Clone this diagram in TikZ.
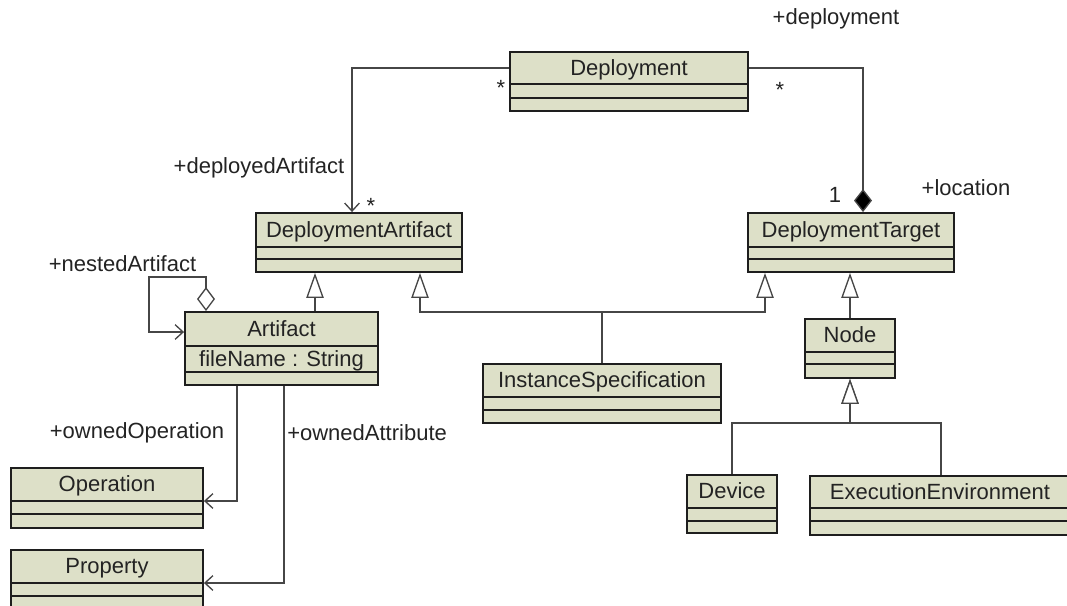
\documentclass[tikz,border=0pt]{standalone}
\usepackage{fontspec}
\setmainfont{Liberation Sans}
\usetikzlibrary{arrows.meta,fit,calc}
\definecolor{clsfill}{RGB}{221,224,200}
\definecolor{clsline}{RGB}{30,30,30}
\definecolor{conn}{RGB}{70,70,70}
\definecolor{txt}{RGB}{35,35,35}
\tikzset{
  cls/.style={draw=clsline, fill=clsfill, line width=1.4pt, inner sep=0pt},
  comp/.style={draw=clsline, line width=1.4pt},
  lbl/.style={font=\fontsize{16.5}{19}\selectfont, text=txt, inner sep=0pt},
  ttl/.style={lbl, text height=11.5pt, text depth=3.4pt, yshift=-1.5pt},
  assoc/.style={draw=conn, line width=1pt},
  nav/.style={assoc, -{Straight Barb[length=6pt,width=11pt]}},
  gen/.style={assoc, -{Triangle[open,length=18.75pt,width=13pt,fill=white]}},
}
\newcommand\umlclass[7]{%
  \coordinate (#1-nw) at (#2,#3);
  \coordinate (#1-se) at (#4,#5);
  \node[cls, fit=(#1-nw)(#1-se)] (#1) {};
  \draw[comp] (#2,#6) -- (#4,#6);
  \draw[comp] (#2,#7) -- (#4,#7);
}
\begin{document}
\begin{tikzpicture}[x=0.75pt,y=-0.75pt]
\useasboundingbox (0,0) rectangle (1067,606);
\clip (0,0) rectangle (1067,606);
% classes
\umlclass{dep}{510}{52}{748}{111}{84}{98}
\umlclass{da}{256}{213}{462}{272}{247}{259}
\umlclass{dt}{748}{213}{954}{272}{247}{259}
\umlclass{art}{185}{312}{378}{385}{346}{372}
\umlclass{is}{483}{364}{721}{423}{397}{410}
\umlclass{nd}{805}{319}{895}{378}{352}{364}
\umlclass{dev}{687}{475}{777}{533}{508}{521}
\umlclass{ee}{810}{476}{1072}{535}{508}{521}
\umlclass{op}{11}{468}{203}{528}{501}{514}
\umlclass{prop}{11}{550}{203}{615}{583}{596}
% titles
\node[ttl] (dep-t) at (629,68) {Deployment};
\node[ttl] (da-t) at (359,230) {DeploymentArtifact};
\node[ttl] (dt-t) at (851,230) {DeploymentTarget};
\node[ttl] (art-t) at (281.5,329) {Artifact};
\node[ttl] (art-a) at (281.5,359) {fileName : String};
\node[ttl] (is-t) at (602,380.5) {InstanceSpecification};
\node[ttl] (nd-t) at (850,335.5) {Node};
\node[ttl] (dev-t) at (732,491.5) {Device};
\node[ttl] (ee-t) at (940,492) {ExecutionEnvironment};
\node[ttl] (op-t) at (107,484.5) {Operation};
\node[ttl] (prop-t) at (107,566.5) {Property};
% associations
\draw[nav] (dep.west |- 0,68) -| (da.north -| 352,0);
\draw[assoc, {Diamond[length=17.25pt,width=13.5pt,fill=black]}-] (dt.north -| 863,0) |- (dep.east |- 0,68);
\draw[assoc, {Diamond[open,length=18pt,width=13.5pt,fill=white]}-{Straight Barb[length=6pt,width=11pt]}] (art.north -| 206,0) |- (149,277) |- (art.west |- 0,332);
\draw[nav] (art.south -| 237,0) |- (op.east |- 0,501);
\draw[nav] (art.south -| 284,0) |- (prop.east |- 0,583);
% generalizations
\draw[gen] (art.north -| 315,0) -- (da.south -| 315,0);
\draw[gen] (is.north) |- (420,312) -- (da.south -| 420,0);
\draw[gen] (is.north) |- (765,312) -- (dt.south -| 765,0);
\draw[gen] (nd.north) -- (dt.south -| nd.north);
\draw[gen] (dev.north) |- (850,423) -- (nd.south);
\draw[gen] (ee.north -| 941,0) |- (850,423) -- (nd.south);
% labels
\node[lbl] (l-deployment) at (836,19) {+deployment};
\node[lbl, anchor=base] (m-dep-l) at (501,96) {*};
\node[lbl, anchor=base] (m-dep-r) at (780,98) {*};
\node[lbl] (l-deployedArtifact) at (259,168) {+deployedArtifact};
\node[lbl, anchor=base] (m-da) at (371,214) {*};
\node[lbl] (m-dt) at (835,195) {1};
\node[lbl] (l-location) at (966,188) {+location};
\node[lbl] (l-nested) at (122.5,264) {+nestedArtifact};
\node[lbl] (l-ownedOp) at (137,433) {+ownedOperation};
\node[lbl, anchor=west] (l-ownedAttr) at (287,433) {+ownedAttribute};
\end{tikzpicture}
\end{document}
